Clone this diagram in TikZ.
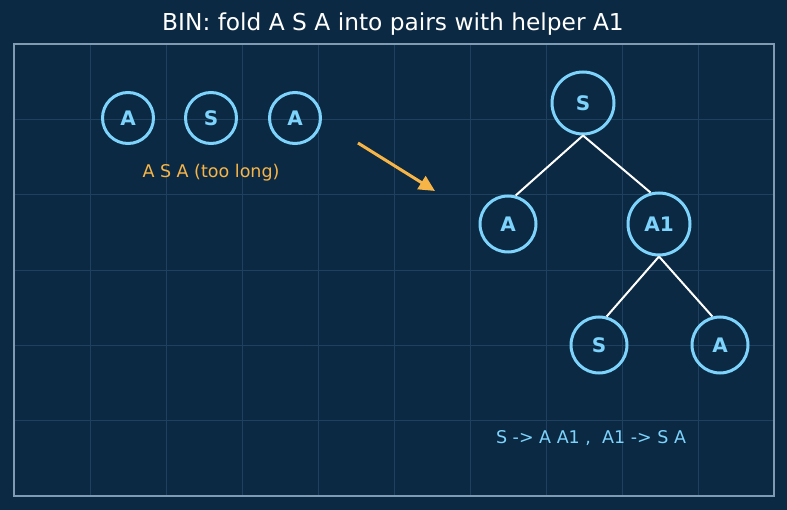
\documentclass[tikz,border=0pt]{standalone}
\usepackage{fontspec}
\setmainfont{DejaVu Sans}
\usetikzlibrary{arrows.meta}
\definecolor{bgblue}{HTML}{0B2942}
\definecolor{framegray}{HTML}{7F9AB3}
\definecolor{gridblue}{HTML}{1E4160}
\definecolor{symblue}{HTML}{7DD3FC}
\definecolor{noteorange}{HTML}{F7B548}
\begin{document}
\begin{tikzpicture}[x=1pt,y=-1pt,
	sym/.style={circle,draw=symblue,line width=3pt,text=symblue,inner sep=0pt,
		minimum size=51pt,font=\bfseries\fontsize{20}{24}\selectfont},
	treesym/.style={sym,minimum size=56pt},
	rootsym/.style={sym,minimum size=62pt},
	branch/.style={draw=white,line width=2pt}]
	
	\fill[bgblue] (0,0) rectangle (787,510);
	\useasboundingbox (0,0) rectangle (787,510);
	
	\foreach \i in {1,...,9}
		\draw[gridblue,line width=0.8pt] (14+76*\i,44) -- (14+76*\i,496);
	\foreach \j in {1,...,5}
		\draw[gridblue,line width=0.8pt] (14,44+75.33*\j) -- (774,44+75.33*\j);
	\draw[framegray,line width=1.5pt] (14,44) rectangle (774,496);
	
	\node[text=white,font=\fontsize{23.3}{28}\selectfont] (title) at (393,24) {BIN: fold A S A into pairs with helper A1};
	
	% the flat string
	\node[sym] (a1) at (128,118) {A};
	\node[sym] (s1) at (211,118) {S};
	\node[sym] (a2) at (295,118) {A};
	\node[text=noteorange,font=\fontsize{17.5}{21}\selectfont] (long) at (211,173) {A S A (too long)};
	
	\coordinate (from) at (358,143);
	\coordinate (to) at (435,191);
	\draw[noteorange,line width=3pt,-{Triangle[length=16pt,width=15pt]}] (from) -- (to);
	
	% the binary tree
	\node[rootsym] (root) at (583,103) {S};
	\node[treesym] (left) at (508,224) {A};
	\node[rootsym] (helper) at (659,224) {A1};
	\node[treesym] (hs) at (599,345) {S};
	\node[treesym] (ha) at (720,345) {A};
	
	\draw[branch] (root.south) -- (left.75);
	\draw[branch] (root.south) -- (helper.105);
	\draw[branch] (helper.south) -- (hs.75);
	\draw[branch] (helper.south) -- (ha.105);
	
	\node[text=symblue,font=\fontsize{17.5}{21}\selectfont] (rules) at (591,438) {S -> A A1 ,\ \ A1 -> S A};
	
\end{tikzpicture}
\end{document}
